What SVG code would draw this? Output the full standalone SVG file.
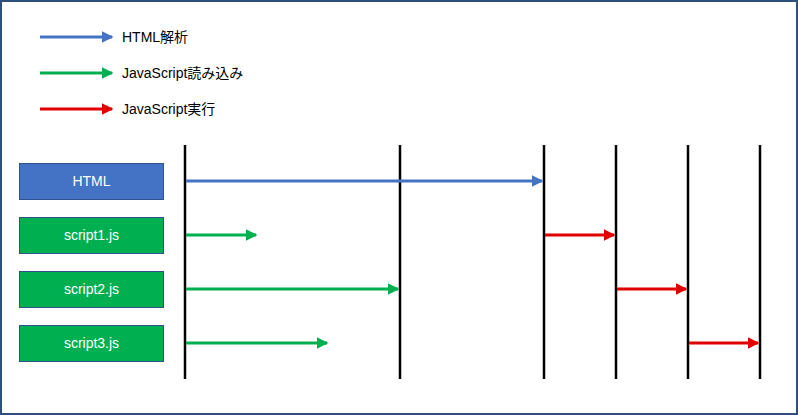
<svg xmlns="http://www.w3.org/2000/svg" width="798" height="415" viewBox="0 0 798 415">
<defs>
<style>
.v{stroke:#000;stroke-width:2.5}
.a{stroke-width:3;fill:none}
.b{stroke:#4472C4}.g{stroke:#00B050}.r{stroke:#E00000}
.lbl{font-family:"Liberation Sans","Noto Sans CJK JP",sans-serif;font-size:14px;fill:#000}
.bt{font-family:"Liberation Sans",sans-serif;font-size:14px;fill:#fff;text-anchor:middle}
</style>
<marker id="mb" markerWidth="4" markerHeight="4" refX="3.5" refY="2" orient="auto" markerUnits="strokeWidth"><path d="M0,0L4,2L0,4z" fill="#4472C4"/></marker>
<marker id="mg" markerWidth="4" markerHeight="4" refX="3.5" refY="2" orient="auto" markerUnits="strokeWidth"><path d="M0,0L4,2L0,4z" fill="#00B050"/></marker>
<marker id="mr" markerWidth="4" markerHeight="4" refX="3.5" refY="2" orient="auto" markerUnits="strokeWidth"><path d="M0,0L4,2L0,4z" fill="#E00000"/></marker>
</defs>
<rect x="0" y="0" width="798" height="415" fill="#fff"/>
<rect x="1" y="1" width="796" height="413" fill="none" stroke="#2F4F7F" stroke-width="2"/>
<g id="legend">
<line class="a b" x1="40" y1="37" x2="112" y2="37" marker-end="url(#mb)"/>
<line class="a g" x1="40" y1="73" x2="112" y2="73" marker-end="url(#mg)"/>
<line class="a r" x1="40" y1="109" x2="112" y2="109" marker-end="url(#mr)"/>
<text class="lbl" x="122" y="42">HTML解析</text>
<text class="lbl" x="122" y="78">JavaScript読み込み</text>
<text class="lbl" x="122" y="114">JavaScript実行</text>
</g>
<g id="timeline">
<line class="v" x1="185" y1="145" x2="185" y2="379"/>
<line class="v" x1="400" y1="145" x2="400" y2="379"/>
<line class="v" x1="544" y1="145" x2="544" y2="379"/>
<line class="v" x1="616" y1="145" x2="616" y2="379"/>
<line class="v" x1="688" y1="145" x2="688" y2="379"/>
<line class="v" x1="760" y1="145" x2="760" y2="379"/>
</g>
<g id="node-html"><rect x="19.5" y="163.5" width="144" height="36" fill="#4472C4" stroke="#2F528F"/><text class="bt" x="91.5" y="186">HTML</text></g>
<g id="node-script1"><rect x="19.5" y="217.5" width="144" height="36" fill="#00B050" stroke="#2F528F"/><text class="bt" x="91.5" y="240">script1.js</text></g>
<g id="node-script2"><rect x="19.5" y="271.5" width="144" height="36" fill="#00B050" stroke="#2F528F"/><text class="bt" x="91.5" y="294">script2.js</text></g>
<g id="node-script3"><rect x="19.5" y="325.5" width="144" height="36" fill="#00B050" stroke="#2F528F"/><text class="bt" x="91.5" y="348">script3.js</text></g>
<g id="connectors">
<line class="a b" x1="186" y1="181" x2="542" y2="181" marker-end="url(#mb)"/>
<line class="a g" x1="186" y1="235" x2="256" y2="235" marker-end="url(#mg)"/>
<line class="a g" x1="186" y1="289" x2="398" y2="289" marker-end="url(#mg)"/>
<line class="a g" x1="186" y1="343" x2="327" y2="343" marker-end="url(#mg)"/>
<line class="a r" x1="545" y1="235" x2="614" y2="235" marker-end="url(#mr)"/>
<line class="a r" x1="617" y1="289" x2="686" y2="289" marker-end="url(#mr)"/>
<line class="a r" x1="689" y1="343" x2="758" y2="343" marker-end="url(#mr)"/>
</g>
</svg>
